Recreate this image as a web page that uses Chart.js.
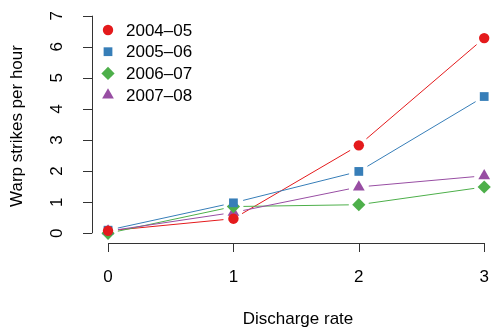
<!DOCTYPE html>
<html>
<head>
<meta charset="utf-8">
<script src="https://cdn.jsdelivr.net/npm/chart.js@4/dist/chart.umd.min.js"></script>
<style>
  html, body { margin: 0; padding: 0; background: #fff; overflow: hidden; }
  canvas { display: block; }
</style>
</head>
<body>
<canvas id="warpChart" width="491" height="329"></canvas>
<script>
const dischargeRate = [0, 1, 2, 3]
const seasons = ['2004–05', '2005–06', '2006–07', '2007–08']
const strikes2004 = [0.08, 0.47, 2.83, 6.28]
const strikes2005 = [0.10, 0.98, 1.99, 4.40]
const strikes2006 = [0.00, 0.86, 0.92, 1.49]
const strikes2007 = [0.07, 0.67, 1.49, 1.85]
const xTicks = [0, 1, 2, 3]
const yTicks = [0, 1, 2, 3, 4, 5, 6, 7]

const seriesValues = [strikes2004, strikes2005, strikes2006, strikes2007]
const colours = ['#E41A1C', '#377EB8', '#4DAF4A', '#984EA3']
const symbols = ['circle', 'rect', 'rectRot', 'triangle']
const symbolSize = [5.2, 6.2, 6.6, 6.8]

const FONT = '17px "Liberation Sans", Arial, sans-serif'

const datasets = seriesValues.map((vals, i) => ({
    label: seasons[i],
    data: vals.map((v, j) => ({ x: dischargeRate[j], y: v })),
    showLine: false,
    pointStyle: symbols[i],
    pointRadius: symbolSize[i],
    pointHoverRadius: symbolSize[i],
    pointBackgroundColor: colours[i],
    pointBorderColor: colours[i],
    pointBorderWidth: 0,
    clip: false
}))

// lines broken around each point, like type = "b"
const gappedLines = {
    id: 'gappedLines',
    beforeDatasetsDraw(chart) {
        const ctx = chart.ctx
        const gap = 10
        ctx.save()
        ctx.lineWidth = 1
        chart.data.datasets.forEach((ds, i) => {
            const pts = chart.getDatasetMeta(i).data
            ctx.strokeStyle = colours[i]
            for (let k = 0; k < pts.length - 1; k++) {
                const a = pts[k], b = pts[k + 1]
                const dx = b.x - a.x, dy = b.y - a.y
                const len = Math.hypot(dx, dy)
                if (len <= 2 * gap) continue
                const ux = dx / len, uy = dy / len
                ctx.beginPath()
                ctx.moveTo(a.x + ux * gap, a.y + uy * gap)
                ctx.lineTo(b.x - ux * gap, b.y - uy * gap)
                ctx.stroke()
            }
        })
        ctx.restore()
    }
}

// axes, tick labels, titles and legend drawn base-graphics style
const baseAxes = {
    id: 'baseAxes',
    afterDraw(chart) {
        const ctx = chart.ctx
        const xs = chart.scales.x, ys = chart.scales.y
        const area = chart.chartArea
        const axisY = area.bottom + 1
        const axisX = area.left - 1
        const tick = 9
        ctx.save()
        ctx.strokeStyle = '#333'
        ctx.lineWidth = 1
        ctx.fillStyle = '#000'
        ctx.font = FONT

        // x axis
        const x0 = xs.getPixelForValue(xTicks[0])
        const x1 = xs.getPixelForValue(xTicks[xTicks.length - 1])
        ctx.beginPath()
        ctx.moveTo(x0, axisY + 0.5)
        ctx.lineTo(x1, axisY + 0.5)
        xTicks.forEach(t => {
            const px = Math.round(xs.getPixelForValue(t)) + 0.5
            ctx.moveTo(px, axisY)
            ctx.lineTo(px, axisY + tick)
        })
        ctx.stroke()
        ctx.textAlign = 'center'
        ctx.textBaseline = 'middle'
        xTicks.forEach(t => {
            ctx.fillText(String(t), xs.getPixelForValue(t), 277)
        })

        // y axis
        const y0 = ys.getPixelForValue(yTicks[0])
        const y1 = ys.getPixelForValue(yTicks[yTicks.length - 1])
        ctx.beginPath()
        ctx.moveTo(axisX + 0.5, y0)
        ctx.lineTo(axisX + 0.5, y1)
        yTicks.forEach(t => {
            const py = Math.round(ys.getPixelForValue(t)) + 0.5
            ctx.moveTo(axisX, py)
            ctx.lineTo(axisX - tick, py)
        })
        ctx.stroke()
        yTicks.forEach(t => {
            ctx.save()
            ctx.translate(57, ys.getPixelForValue(t))
            ctx.rotate(-Math.PI / 2)
            ctx.fillText(String(t), 0, 0)
            ctx.restore()
        })

        // axis titles
        ctx.fillText('Discharge rate', 298, 319)
        ctx.save()
        ctx.translate(17, 126)
        ctx.rotate(-Math.PI / 2)
        ctx.fillText('Warp strikes per hour', 0, 0)
        ctx.restore()

        // legend
        ctx.textAlign = 'left'
        seasons.forEach((s, i) => {
            const ly = 30 + i * 21.7
            ctx.fillStyle = colours[i]
            ctx.strokeStyle = colours[i]
            Chart.helpers.drawPoint(ctx, {
                pointStyle: symbols[i],
                radius: symbolSize[i],
                borderWidth: 0,
                rotation: 0
            }, 108, ly)
            ctx.fillStyle = '#000'
            ctx.fillText(s, 126, ly + 1)
        })
        ctx.restore()
    }
}

new Chart(document.getElementById('warpChart'), {
    type: 'scatter',
    data: { datasets: datasets },
    options: {
        responsive: false,
        devicePixelRatio: 1,
        animation: false,
        layout: { padding: { left: 93, right: 1, top: 7, bottom: 87 } },
        scales: {
            x: { type: 'linear', display: false, min: -0.12, max: 3 },
            y: { type: 'linear', display: false, min: -0.28, max: 7.28 }
        },
        plugins: {
            legend: { display: false },
            tooltip: { enabled: false }
        }
    },
    plugins: [gappedLines, baseAxes]
})
</script>
</body>
</html>
